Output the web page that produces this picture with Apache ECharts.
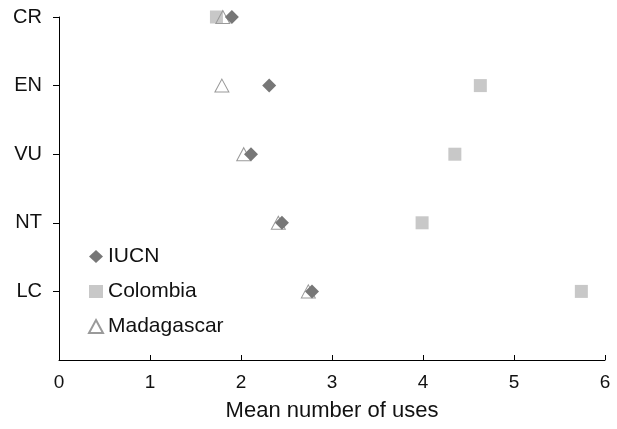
<!DOCTYPE html>
<html>
<head>
<meta charset="utf-8">
<script src="https://cdn.jsdelivr.net/npm/echarts@6/dist/echarts.min.js"></script>
<style>
  html, body { margin: 0; padding: 0; background: #fff; }
  #chart { width: 617px; height: 429px; }
</style>
</head>
<body>
<div id="chart"></div>
<script>
// IUCN categories, top to bottom
const categories = ['CR', 'EN', 'VU', 'NT', 'LC'];
const iucn = [1.90, 2.31, 2.11, 2.45, 2.78];
const colombia = [1.73, 4.63, 4.35, 3.99, 5.74];
const madagascar = [1.80, 1.79, 2.03, 2.41, 2.74];
const xTicks = [0, 1, 2, 3, 4, 5, 6];

// CR sits at the top (5), LC at 1, 0 left empty at the bottom
const yPos = i => categories.length - i;
const toPoints = arr => arr.map((v, i) => [v, yPos(i)]);

const chart = echarts.init(document.getElementById('chart'));
chart.setOption({
  animation: false,
  textStyle: { fontFamily: 'Liberation Sans, Arial, sans-serif' },
  grid: { left: 59, right: 12, top: 17, bottom: 69 },
  legend: {
    orient: 'vertical',
    left: 88,
    top: 246,
    padding: 0,
    itemGap: 14,
    itemWidth: 14,
    itemHeight: 13,
    textStyle: { fontSize: 21, color: '#111' },
    data: ['IUCN', 'Colombia', 'Madagascar']
  },
  xAxis: {
    type: 'value',
    min: xTicks[0],
    max: xTicks[xTicks.length - 1],
    interval: 1,
    name: 'Mean number of uses',
    nameLocation: 'middle',
    nameGap: 40,
    nameTextStyle: { fontSize: 22, color: '#111' },
    axisLine: { lineStyle: { color: '#000', width: 1 } },
    axisTick: { inside: true, length: 5, lineStyle: { color: '#000' } },
    axisLabel: { fontSize: 19, color: '#111', margin: 13 },
    splitLine: { show: false }
  },
  yAxis: {
    type: 'value',
    min: 0,
    max: categories.length,
    interval: 1,
    axisLine: { show: true, lineStyle: { color: '#000', width: 1 } },
    axisTick: { show: true, length: 6, lineStyle: { color: '#000' }, customValues: [1, 2, 3, 4, 5] },
    axisLabel: {
      fontSize: 20, color: '#111', margin: 17,
      customValues: [1, 2, 3, 4, 5],
      formatter: v => categories[categories.length - v] || ''
    },
    splitLine: { show: false }
  },
  series: [
    {
      name: 'Colombia',
      type: 'scatter',
      symbol: 'rect',
      symbolSize: 13,
      itemStyle: { color: '#c8c8c8', opacity: 1 },
      data: toPoints(colombia)
    },
    {
      name: 'Madagascar',
      type: 'scatter',
      symbol: 'triangle',
      symbolSize: [14, 13],
      itemStyle: { color: 'rgba(255,255,255,0)', borderColor: '#9a9a9a', borderWidth: 1, opacity: 1 },
      data: toPoints(madagascar)
    },
    {
      name: 'IUCN',
      type: 'scatter',
      symbol: 'diamond',
      symbolSize: 14,
      itemStyle: { color: '#777777', opacity: 1 },
      data: toPoints(iucn)
    }
  ]
});
</script>
</body>
</html>
